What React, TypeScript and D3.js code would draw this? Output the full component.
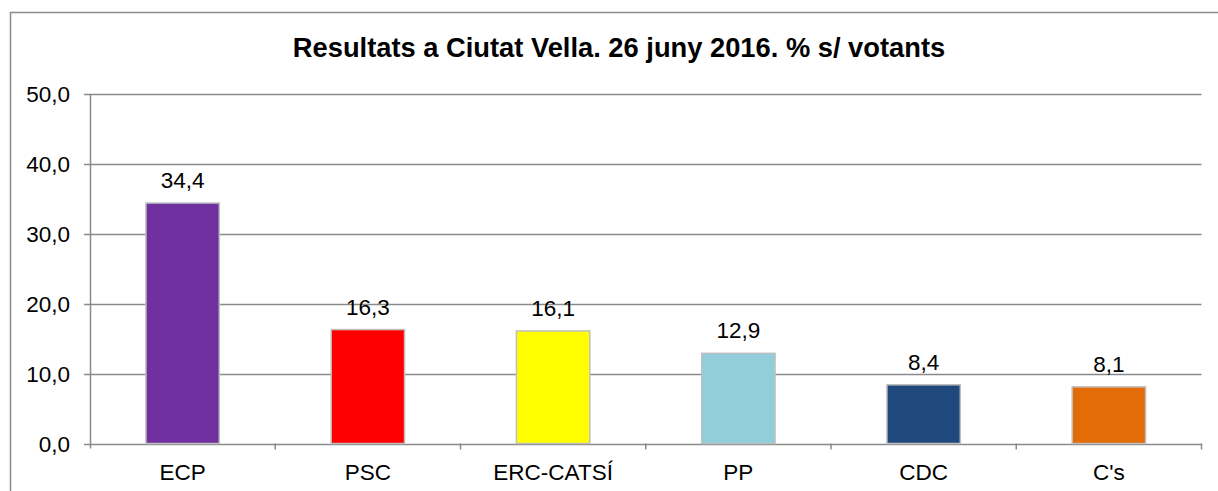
import React, { useEffect, useRef } from 'react';
import * as d3 from 'd3';

const categories = ['ECP', 'PSC', 'ERC-CATSÍ', 'PP', 'CDC', "C's"];
const values = [34.4, 16.3, 16.1, 12.9, 8.4, 8.1];
const colors = ['#7030A0', '#FF0000', '#FFFF00', '#92CDDC', '#1F497D', '#E36C09'];
const yTicks = [0, 10, 20, 30, 40, 50];
const title = 'Resultats a Ciutat Vella. 26 juny 2016. % s/ votants';

const fmt = (v: number) => v.toFixed(1).replace('.', ',');
const font = 'Liberation Sans, Arial, sans-serif';

export default function App() {
  const ref = useRef<SVGSVGElement>(null);

  useEffect(() => {
    const width = 1218;
    const height = 491;
    const margin = { top: 94, right: 16, bottom: 47, left: 90 };
    const svg = d3.select(ref.current);
    svg.selectAll('*').remove();

    svg.append('rect')
      .attr('x', 10.5).attr('y', 12.5)
      .attr('width', 1220).attr('height', 500)
      .attr('fill', '#fff').attr('stroke', '#8c8c8c').attr('stroke-width', 1.5);

    svg.append('text')
      .attr('x', 619).attr('y', 57)
      .attr('text-anchor', 'middle')
      .attr('font-family', font)
      .attr('font-weight', 'bold').attr('font-size', 27.3)
      .text(title);

    const x = d3.scaleBand()
      .domain(categories)
      .range([margin.left, width - margin.right - 0.5])
      .paddingInner(0).paddingOuter(0);

    const y = d3.scaleLinear()
      .domain([0, 50])
      .range([height - margin.bottom - 0.5, margin.top]);

    // gridlines
    svg.append('g')
      .selectAll('line')
      .data(yTicks)
      .join('line')
      .attr('x1', margin.left - 6).attr('x2', x.range()[1])
      .attr('y1', d => Math.round(y(d)) + 0.5).attr('y2', d => Math.round(y(d)) + 0.5)
      .attr('stroke', '#8a8a8a').attr('stroke-width', 1.5);

    // y axis line
    svg.append('line')
      .attr('x1', margin.left + 0.5).attr('x2', margin.left + 0.5)
      .attr('y1', y(50)).attr('y2', y(0) + 5)
      .attr('stroke', '#8a8a8a').attr('stroke-width', 1.5);

    // x ticks at band boundaries
    const bounds = categories.map(c => x(c) as number).concat([x.range()[1]]);
    svg.append('g')
      .selectAll('line')
      .data(bounds.slice(1))
      .join('line')
      .attr('x1', d => d).attr('x2', d => d)
      .attr('y1', y(0)).attr('y2', y(0) + 6)
      .attr('stroke', '#8a8a8a').attr('stroke-width', 1.5);

    svg.append('g')
      .selectAll('text')
      .data(yTicks)
      .join('text')
      .attr('x', 70).attr('y', d => y(d) + 8)
      .attr('text-anchor', 'end')
      .attr('font-family', font)
      .attr('font-size', 22.5)
      .text(d => fmt(d));

    const bw = x.bandwidth() * 0.396;
    const data = categories.map((c, i) => ({ c, v: values[i], color: colors[i] }));

    svg.append('g')
      .selectAll('rect')
      .data(data)
      .join('rect')
      .attr('x', d => (x(d.c) as number) + (x.bandwidth() - bw) / 2)
      .attr('y', d => y(d.v))
      .attr('width', bw)
      .attr('height', d => y(0) - y(d.v))
      .attr('fill', d => d.color)
      .attr('stroke', '#bfbfbf').attr('stroke-width', 1.5);

    svg.append('g')
      .selectAll('text')
      .data(data)
      .join('text')
      .attr('x', d => (x(d.c) as number) + x.bandwidth() / 2)
      .attr('y', d => y(d.v) - 15)
      .attr('text-anchor', 'middle')
      .attr('font-family', font)
      .attr('font-size', 22.5)
      .text(d => fmt(d.v));

    svg.append('g')
      .selectAll('text')
      .data(categories)
      .join('text')
      .attr('x', d => (x(d) as number) + x.bandwidth() / 2)
      .attr('y', y(0) + 36)
      .attr('text-anchor', 'middle')
      .attr('font-family', font)
      .attr('font-size', 22.5)
      .text(d => d);
  }, []);

  return (
    <svg ref={ref} width={1218} height={491}
      style={{ position: 'absolute', left: 0, top: 0, display: 'block' }} />
  );
}
